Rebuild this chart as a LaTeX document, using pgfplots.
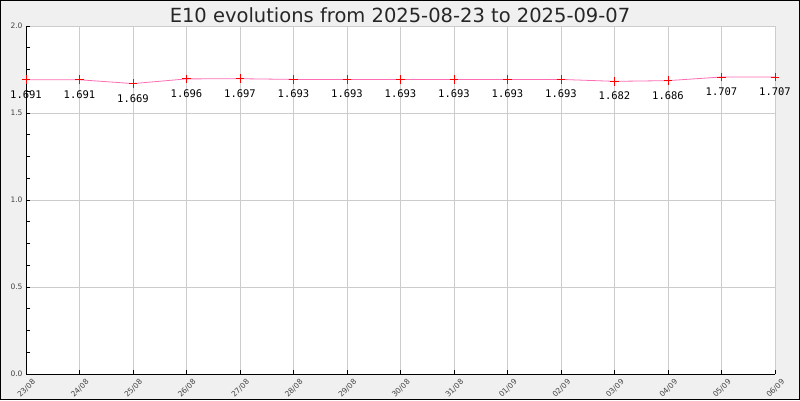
\documentclass[border=0pt]{standalone}
\usepackage{pgfplots}
\pgfplotsset{compat=1.18}
\usepackage{fontspec}
\setmainfont{DejaVu Sans}
\newfontfamily\monofont{DejaVu Sans Mono}
\definecolor{bggray}{HTML}{F0F0F0}
\definecolor{linepink}{HTML}{FF6EB4}
\definecolor{gridgray}{HTML}{CCCCCC}
\definecolor{ticktext}{HTML}{444444}

\begin{document}
\begin{tikzpicture}
% background and frame of the whole image
\fill[bggray] (0pt,0pt) rectangle (800pt,400pt);
\draw[black, line width=1pt] (0.5pt,0.5pt) rectangle (799.5pt,399.5pt);
\node[font=\fontsize{19.5}{22}\selectfont, text=black!85] at (400pt,385pt) {E10 evolutions from 2025-08-23 to 2025-09-07};
\begin{axis}[
    at={(26pt,26pt)}, anchor=south west,
    scale only axis,
    width=749pt, height=348pt,
    xmin=0, xmax=14,
    ymin=0, ymax=2,
    axis background/.style={fill=white},
    axis x line=bottom, axis y line=left,
    axis line style={-, black, line width=0.8pt},
    xtick={0,...,14},
    xticklabels={23/08,24/08,25/08,26/08,27/08,28/08,29/08,30/08,31/08,01/09,02/09,03/09,04/09,05/09,06/09},
    ytick={0,0.5,1,1.5,2},
    minor y tick num=3,
    tick align=inside,
    major tick length=4pt, minor tick length=4pt,
    tick style={black, line width=0.6pt},
    grid=major,
    major grid style={gridgray, line width=0.6pt},
    yticklabel style={font=\fontsize{7.5}{9}\selectfont, text=ticktext, /pgf/number format/.cd, fixed, fixed zerofill, precision=1, assume math mode=true},
    xticklabel style={font=\fontsize{7.5}{9}\selectfont, text=ticktext, xshift=9pt, yshift=-6pt, rotate=45, anchor=east, inner sep=1pt},
    clip=false,
    point meta=explicit symbolic,
    nodes near coords,
    every node near coord/.append style={font=\monofont\fontsize{10.5}{12}\selectfont, text=black, anchor=north, yshift=-7pt},
]
\addplot[color=linepink, line width=0.8pt, mark=+, mark size=4.3pt, mark options={red, solid, line width=0.8pt}]
coordinates {
    (0,1.691) [1.691]
    (1,1.691) [1.691]
    (2,1.669) [1.669]
    (3,1.696) [1.696]
    (4,1.697) [1.697]
    (5,1.693) [1.693]
    (6,1.693) [1.693]
    (7,1.693) [1.693]
    (8,1.693) [1.693]
    (9,1.693) [1.693]
    (10,1.693) [1.693]
    (11,1.682) [1.682]
    (12,1.686) [1.686]
    (13,1.707) [1.707]
    (14,1.707) [1.707]
};
\end{axis}
\end{tikzpicture}
\end{document}
